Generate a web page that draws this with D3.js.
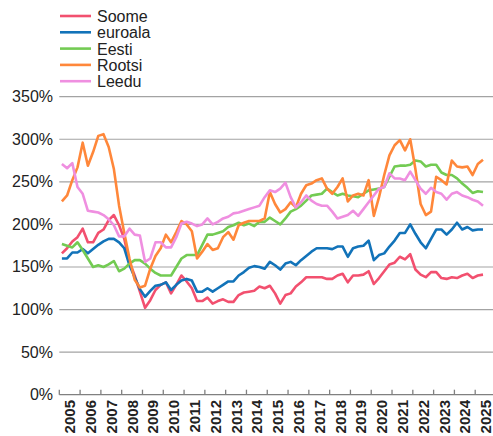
<!DOCTYPE html>
<html>

<head>
    <meta charset="UTF-8">
    <title>Soome, euroala, Eesti, Rootsi, Leedu</title>
    <style>
        body { margin: 0; background: #fff; }
        svg text { font-family: 'Liberation Sans', Arial, sans-serif; fill: #222; }
    </style>
</head>

<body>
    <svg></svg>
    <script src="https://d3js.org/d3.v7.min.js"></script>
    <script>
        let width = 493,
            height = 436;

        // years on the axis, data is quarterly from 2005Q1 to 2025Q2
        const years = d3.range(2005, 2026);
        const yTicks = [0, 50, 100, 150, 200, 250, 300, 350];

        const soome = [166, 172, 180, 185, 195, 179, 179, 190, 194, 205, 211, 199, 183, 156, 140, 121, 102, 111, 123, 129,
            132, 119, 129, 140, 133, 125, 110, 110, 114, 107, 110, 112, 109, 109, 117, 120, 121, 122, 127, 125,
            128, 119, 107, 117, 119, 127, 132, 138, 138, 138, 138, 136, 136, 140, 142, 132, 140, 140, 141, 145,
            130, 137, 145, 153, 155, 162, 159, 165, 147, 141, 138, 144, 144, 137, 136, 138, 137, 140, 142, 137,
            140, 141];
        const euroala = [160, 160, 167, 167, 171, 166, 171, 176, 180, 183, 183, 179, 172, 152, 138, 124, 115, 122, 128, 129,
            132, 123, 129, 134, 136, 134, 121, 121, 125, 121, 125, 129, 133, 133, 140, 144, 149, 151, 150, 148,
            156, 152, 147, 154, 156, 152, 158, 163, 168, 172, 172, 172, 171, 174, 174, 162, 172, 174, 175, 181,
            158, 164, 166, 174, 181, 190, 190, 200, 189, 179, 172, 183, 194, 194, 188, 194, 202, 194, 197, 193,
            194, 194];
        const eesti = [177, 175, 173, 179, 170, 160, 150, 152, 150, 153, 157, 145, 148, 154, 158, 158, 154, 148, 143, 140,
            140, 140, 150, 160, 164, 164, 164, 176, 188, 188, 190, 192, 197, 199, 202, 199, 201, 198, 203, 203,
            208, 204, 200, 207, 215, 218, 222, 228, 234, 235, 236, 242, 238, 234, 236, 234, 233, 232, 236, 240,
            241, 242, 244, 256, 268, 269, 269, 270, 275, 274, 268, 270, 270, 261, 258, 258, 254, 248, 243, 237,
            239, 238];
        const rootsi = [227, 234, 252, 267, 296, 269, 285, 304, 306, 291, 265, 222, 190, 160, 135, 126, 128, 148, 163, 172,
            188, 179, 191, 204, 200, 192, 160, 168, 177, 170, 172, 185, 191, 182, 199, 202, 204, 204, 204, 207,
            238, 224, 214, 218, 226, 220, 236, 246, 248, 252, 254, 242, 236, 244, 254, 227, 234, 236, 234, 252,
            210, 232, 258, 281, 293, 299, 287, 300, 265, 224, 211, 215, 256, 252, 247, 275, 268, 267, 268, 258,
            271, 276];
        const leedu = [271, 266, 272, 244, 236, 216, 215, 214, 211, 206, 199, 186, 186, 195, 188, 187, 156, 160, 179, 179,
            173, 173, 185, 201, 203, 201, 198, 200, 207, 200, 203, 207, 209, 213, 214, 216, 218, 220, 222, 232,
            240, 238, 242, 249, 232, 220, 226, 234, 228, 224, 222, 222, 215, 207, 209, 211, 216, 210, 218, 226,
            234, 242, 244, 260, 254, 254, 252, 262, 252, 242, 236, 243, 238, 236, 229, 236, 238, 234, 232, 229,
            227, 222];

        const seriesNames = ["Soome", "euroala", "Eesti", "Rootsi", "Leedu"];
        const seriesColors = ["#f2506f", "#1273b9", "#73cb53", "#ff873a", "#ef8fe0"];
        const seriesValues = [soome, euroala, eesti, rootsi, leedu];

        const plotLeft = 59.3,
            plotRight = 496,
            plotTop = 96.7,
            plotBottom = 394.7;

        let svg = d3.select("svg")
            .attr("width", width)
            .attr("height", height);

        const xYear = d3.scaleBand()
            .domain(years)
            .range([plotLeft, plotRight]);

        // quarter position inside the year bands
        const xQ = d3.scaleLinear()
            .domain([0, years.length * 4])
            .range([plotLeft, plotRight]);

        const y = d3.scaleLinear()
            .domain([0, 350])
            .range([plotBottom, plotTop]);

        // grid lines
        svg.append('g')
            .selectAll('line')
            .data(yTicks.filter(d => d > 0))
            .enter().append('line')
            .attr('x1', plotLeft)
            .attr('x2', width)
            .attr('y1', d => y(d))
            .attr('y2', d => y(d))
            .attr('stroke', '#a3a3a3')
            .attr('stroke-width', 1.2);

        // y labels
        svg.append('g')
            .selectAll('text')
            .data(yTicks)
            .enter().append('text')
            .attr('x', 53)
            .attr('y', d => y(d) + 5.5)
            .attr('text-anchor', 'end')
            .style('font-size', '16px')
            .text(d => d + "%");

        // x axis line and ticks
        svg.append('line')
            .attr('x1', plotLeft)
            .attr('x2', width)
            .attr('y1', plotBottom)
            .attr('y2', plotBottom)
            .attr('stroke', '#808080')
            .attr('stroke-width', 1.3);

        svg.append('g')
            .selectAll('line')
            .data(years)
            .enter().append('line')
            .attr('x1', d => xYear(d))
            .attr('x2', d => xYear(d))
            .attr('y1', plotBottom)
            .attr('y2', plotBottom - 5)
            .attr('stroke', '#808080')
            .attr('stroke-width', 1.3);

        svg.append('g')
            .selectAll('text')
            .data(years)
            .enter().append('text')
            .attr('transform', d => `translate(${xYear(d) + xYear.bandwidth() / 2 + 5.5},400) rotate(-90)`)
            .attr('text-anchor', 'end')
            .style('font-size', '15px')
            .style('font-weight', 'bold')
            .text(d => d);

        // lines
        const line = d3.line()
            .x((d, i) => xQ(i + 0.5))
            .y(d => y(d));

        svg.append('g')
            .selectAll('path')
            .data(seriesValues)
            .enter().append('path')
            .attr('d', line)
            .attr('fill', 'none')
            .attr('stroke', (d, i) => seriesColors[i])
            .attr('stroke-width', 2.6)
            .attr('stroke-linejoin', 'round');

        // legend
        const legend = svg.append('g')
            .selectAll('g')
            .data(seriesNames)
            .enter().append('g')
            .attr('transform', (d, i) => `translate(60,${16 + i * 16.3})`);

        legend.append('line')
            .attr('x1', 0)
            .attr('x2', 31)
            .attr('stroke', (d, i) => seriesColors[i])
            .attr('stroke-width', 2.6);

        legend.append('text')
            .attr('x', 37)
            .attr('y', 6)
            .style('font-size', '16px')
            .text(d => d);
    </script>
</body>

</html>
